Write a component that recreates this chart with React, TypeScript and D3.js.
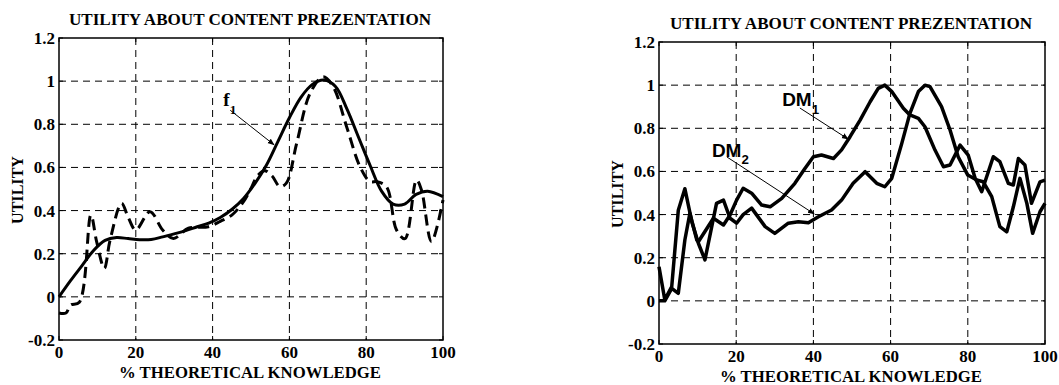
import * as d3 from "d3";

// axis ticks
const xTicks = [0, 20, 40, 60, 80, 100];
const yTicks = [-0.2, 0, 0.2, 0.4, 0.6, 0.8, 1, 1.2];
const yTickLabels = ["-0.2", "0", "0.2", "0.4", "0.6", "0.8", "1", "1.2"];

const chartTitle = "UTILITY ABOUT CONTENT PREZENTATION";
const xTitle = "% THEORETICAL KNOWLEDGE";
const yTitle = "UTILITY";

// left panel: f1 (solid) and the dashed curve
const f1X = [0, 3, 6, 9, 12, 15, 18, 21, 24, 27, 30, 33, 36, 39, 42, 45, 48, 51, 54, 57, 60, 63, 66, 69, 72, 75, 78, 81, 84, 87, 90, 93, 96, 100];
const f1Y = [0.0, 0.075, 0.145, 0.215, 0.262, 0.275, 0.27, 0.265, 0.266, 0.278, 0.292, 0.307, 0.325, 0.342, 0.368, 0.405, 0.455, 0.525, 0.61, 0.72, 0.83, 0.925, 0.985, 1.005, 0.975, 0.87, 0.74, 0.61, 0.49, 0.43, 0.43, 0.475, 0.49, 0.465];

const dashX = [0, 1.8, 3, 5.3, 8.3, 9.8, 11.8, 13.3, 16.3, 18, 20, 23.7, 27, 29.8, 33.7, 38.9, 42, 45, 48, 50.2, 51.5, 53.5, 55.5, 57.5, 59.2, 61.9, 65.4, 68.8, 71.4, 74.9, 78.4, 81, 82.8, 85.3, 87.9, 90.1, 93.1, 94.4, 97, 100];
const dashY = [-0.075, -0.075, -0.038, -0.025, 0.379, 0.256, 0.132, 0.263, 0.434, 0.37, 0.31, 0.395, 0.31, 0.271, 0.318, 0.325, 0.35, 0.379, 0.44, 0.51, 0.557, 0.585, 0.56, 0.511, 0.527, 0.712, 0.944, 1.02, 0.974, 0.789, 0.603, 0.534, 0.534, 0.51, 0.31, 0.27, 0.542, 0.495, 0.256, 0.449];

// right panel: DM1 and DM2
const dm1X = [0, 1.5, 3.3, 5, 6.7, 8, 9.8, 10.2, 14.1, 16.7, 18.4, 20.1, 21.8, 24, 26.6, 28.8, 31.8, 35.2, 37.8, 40, 42.1, 45.2, 47.3, 49.5, 52.1, 54.7, 56.8, 58.5, 60.3, 63.3, 65, 67.2, 68.9, 71.5, 73.7, 75.4, 78, 80.1, 81.9, 83.6, 86.6, 88.3, 90.5, 91.8, 93.1, 94.8, 96.5, 98.7, 100];
const dm1Y = [0, 0, 0.058, 0.035, 0.282, 0.406, 0.282, 0.274, 0.383, 0.352, 0.398, 0.467, 0.522, 0.499, 0.444, 0.436, 0.475, 0.545, 0.614, 0.668, 0.676, 0.66, 0.7, 0.761, 0.838, 0.923, 0.985, 1.0, 0.97, 0.893, 0.862, 0.846, 0.807, 0.699, 0.622, 0.63, 0.722, 0.676, 0.568, 0.506, 0.668, 0.645, 0.545, 0.537, 0.66, 0.63, 0.452, 0.552, 0.56];

const dm2X = [0, 1.5, 3.3, 5, 6.7, 8.5, 10.2, 11.9, 14.9, 16.7, 18.4, 20.1, 21.8, 24, 27.5, 30, 33.5, 36.1, 38.7, 41.3, 44.7, 47.3, 50.3, 53.4, 56.4, 58.5, 60.3, 62.9, 65, 67.2, 68.9, 70.2, 73.2, 75.4, 77.5, 80, 82.3, 84, 86.2, 88.3, 90.1, 91.8, 93.5, 95.3, 96.8, 98.7, 100];
const dm2Y = [0.158, 0.005, 0.066, 0.42, 0.52, 0.367, 0.267, 0.19, 0.452, 0.467, 0.383, 0.36, 0.4, 0.43, 0.344, 0.313, 0.36, 0.367, 0.362, 0.39, 0.421, 0.467, 0.545, 0.599, 0.545, 0.529, 0.568, 0.73, 0.869, 0.97, 1.0, 0.993, 0.9, 0.792, 0.668, 0.583, 0.56, 0.552, 0.483, 0.344, 0.32, 0.436, 0.568, 0.452, 0.313, 0.413, 0.452];

const serif = "'Liberation Serif', 'Times New Roman', serif";
const sans = "'Liberation Sans', Arial, sans-serif";

interface Series {
  xs: number[];
  ys: number[];
  width: number;
  dash?: string;
  curve: d3.CurveFactory;
}

interface Note {
  label: string;
  sub: string;
  font: string;
  size: number;
  at: [number, number]; // label position in data units
  from: [number, number];
  to: [number, number];
}

interface PanelProps {
  x0: number;
  x1: number;
  y0: number;
  y1: number;
  titleY: number;
  xTitleY: number;
  yTitleX: number;
  series: Series[];
  notes: Note[];
  id: string;
}

function Panel({ x0, x1, y0, y1, titleY, xTitleY, yTitleX, series, notes, id }: PanelProps) {
  const x = d3.scaleLinear().domain([0, 100]).range([x0, x1]);
  const y = d3.scaleLinear().domain([-0.2, 1.2]).range([y1, y0]);
  const cx = (x0 + x1) / 2 - 1;
  const cy = (y0 + y1) / 2;
  const tick = 4;

  return (
    <g>
      <defs>
        <marker id={`arr-${id}`} viewBox="0 0 10 10" refX="9" refY="5" markerWidth="7" markerHeight="7" orient="auto">
          <path d="M0,1 L10,5 L0,9 z" fill="#000" />
        </marker>
      </defs>

      <text x={cx} y={titleY} textAnchor="middle" fontFamily={serif} fontWeight="bold" fontSize={17}
        textLength={362} lengthAdjust="spacingAndGlyphs">
        {chartTitle}
      </text>

      {/* grid */}
      {xTicks.slice(1, -1).map((t) => (
        <line key={`gx${t}`} x1={x(t)} x2={x(t)} y1={y0} y2={y1} stroke="#000" strokeWidth={1} strokeDasharray="7,5" />
      ))}
      {yTicks.slice(1, -1).map((t) => (
        <line key={`gy${t}`} x1={x0} x2={x1} y1={y(t)} y2={y(t)} stroke="#000" strokeWidth={1} strokeDasharray="7,5" />
      ))}

      {/* inner ticks */}
      {xTicks.map((t) => (
        <g key={`tx${t}`}>
          <line x1={x(t)} x2={x(t)} y1={y1} y2={y1 - tick} stroke="#000" />
          <line x1={x(t)} x2={x(t)} y1={y0} y2={y0 + tick} stroke="#000" />
        </g>
      ))}
      {yTicks.map((t) => (
        <g key={`ty${t}`}>
          <line x1={x0} x2={x0 + tick} y1={y(t)} y2={y(t)} stroke="#000" />
          <line x1={x1} x2={x1 - tick} y1={y(t)} y2={y(t)} stroke="#000" />
        </g>
      ))}

      {/* curves */}
      {series.map((s, i) => {
        const line = d3
          .line<number>()
          .x((_, k) => x(s.xs[k]))
          .y((v) => y(v))
          .curve(s.curve);
        return (
          <path key={i} d={line(s.ys) ?? ""} fill="none" stroke="#000" strokeWidth={s.width}
            strokeDasharray={s.dash} strokeLinejoin="round" />
        );
      })}

      <rect x={x0} y={y0} width={x1 - x0} height={y1 - y0} fill="none" stroke="#000" strokeWidth={1.5} />

      {/* tick labels */}
      {xTicks.map((t) => (
        <text key={`lx${t}`} x={x(t)} y={y1 + 18} textAnchor="middle" fontFamily={serif} fontWeight="bold" fontSize={17}>
          {t}
        </text>
      ))}
      {yTicks.map((t, i) => (
        <text key={`ly${t}`} x={x0 - 4} y={y(t)} dy="0.35em" textAnchor="end" fontFamily={serif} fontWeight="bold" fontSize={17}>
          {yTickLabels[i]}
        </text>
      ))}

      <text x={cx} y={xTitleY} textAnchor="middle" fontFamily={serif} fontWeight="bold" fontSize={17}
        textLength={262} lengthAdjust="spacingAndGlyphs">
        {xTitle}
      </text>
      <text transform={`translate(${yTitleX},${cy + 1}) rotate(-90)`} textAnchor="middle" fontFamily={serif}
        fontWeight="bold" fontSize={16} textLength={68} lengthAdjust="spacingAndGlyphs">
        {yTitle}
      </text>

      {/* annotations */}
      {notes.map((n) => (
        <g key={n.label + n.sub}>
          <line x1={x(n.from[0])} y1={y(n.from[1])} x2={x(n.to[0])} y2={y(n.to[1])} stroke="#000" strokeWidth={1}
            markerEnd={`url(#arr-${id})`} />
          <text x={x(n.at[0])} y={y(n.at[1])} fontFamily={n.font} fontWeight="bold" fontSize={n.size}>
            {n.label}
            <tspan fontSize={n.size * 0.7} dy={n.size * 0.4}>{n.sub}</tspan>
          </text>
        </g>
      ))}
    </g>
  );
}

export default function App() {
  const smooth = d3.curveCatmullRom.alpha(0.5);
  return (
    <svg width={1059} height={385} style={{ position: "absolute", left: 0, top: 0, background: "#fff" }}>
      <Panel
        id="a"
        x0={59}
        x1={443}
        y0={38}
        y1={340}
        titleY={25}
        xTitleY={378}
        yTitleX={23}
        series={[
          { xs: f1X, ys: f1Y, width: 3, curve: smooth },
          { xs: dashX, ys: dashY, width: 3, dash: "11,6", curve: smooth },
        ]}
        notes={[
          { label: "f", sub: "1", font: serif, size: 19, at: [42.8, 0.885], from: [44.6, 0.865], to: [56, 0.705] },
        ]}
      />
      <Panel
        id="b"
        x0={659}
        x1={1045}
        y0={42}
        y1={344}
        titleY={28.5}
        xTitleY={381.5}
        yTitleX={623}
        series={[
          { xs: dm1X, ys: dm1Y, width: 3.5, curve: d3.curveLinear },
          { xs: dm2X, ys: dm2Y, width: 3.5, curve: d3.curveLinear },
        ]}
        notes={[
          { label: "DM", sub: "1", font: sans, size: 19, at: [31.9, 0.903], from: [36.5, 0.894], to: [49, 0.75] },
          { label: "DM", sub: "2", font: sans, size: 19, at: [13.7, 0.668], from: [17.6, 0.667], to: [40.2, 0.403] },
        ]}
      />
    </svg>
  );
}
